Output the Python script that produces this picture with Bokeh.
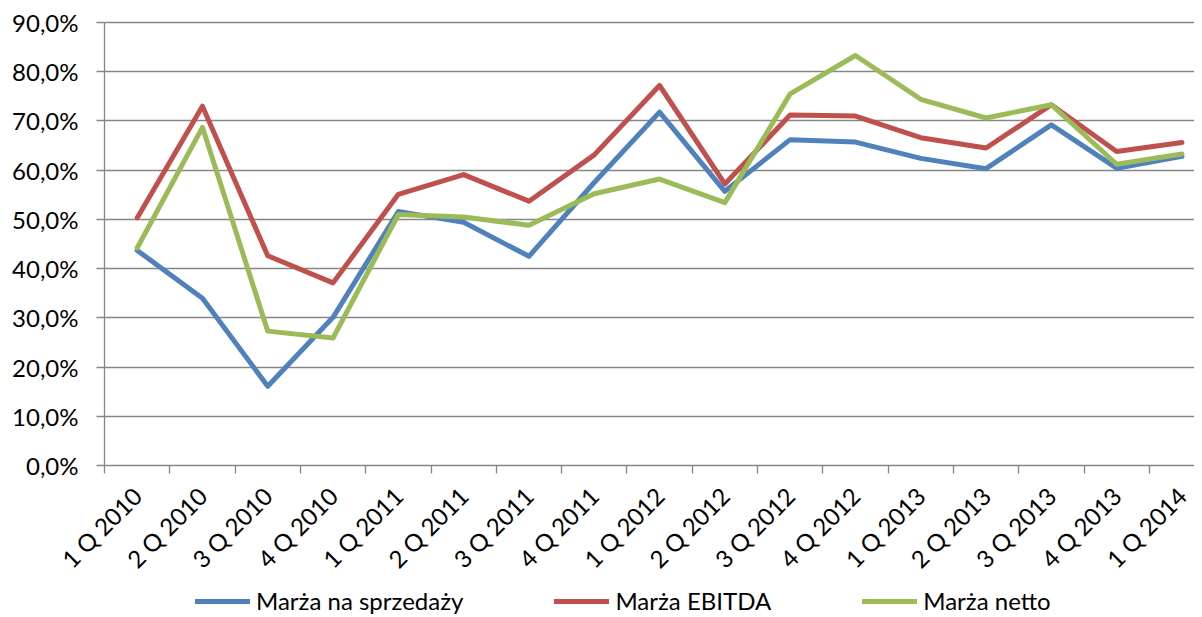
import math
from bokeh.plotting import figure
from bokeh.models import Range1d, FixedTicker, Legend, LegendItem
from bokeh.embed import file_html
from bokeh.resources import INLINE

quarters = ["1 Q 2010", "2 Q 2010", "3 Q 2010", "4 Q 2010",
            "1 Q 2011", "2 Q 2011", "3 Q 2011", "4 Q 2011",
            "1 Q 2012", "2 Q 2012", "3 Q 2012", "4 Q 2012",
            "1 Q 2013", "2 Q 2013", "3 Q 2013", "4 Q 2013",
            "1 Q 2014"]
marza_sprzedazy = [43.7, 34.0, 16.1, 30.1, 51.6, 49.4, 42.5, 57.5, 71.8,
                   55.7, 66.2, 65.7, 62.4, 60.3, 69.2, 60.4, 62.8]
marza_ebitda = [50.3, 73.0, 42.6, 37.1, 55.1, 59.1, 53.7, 63.1, 77.2,
                57.2, 71.2, 71.0, 66.6, 64.5, 73.3, 63.8, 65.6]
marza_netto = [44.2, 68.7, 27.3, 25.9, 51.0, 50.5, 48.8, 55.2, 58.2,
               53.4, 75.5, 83.3, 74.4, 70.6, 73.3, 61.2, 63.3]
series_names = ["Marża na sprzedaży", "Marża EBITDA", "Marża netto"]
series_colors = ["#4F81BD", "#C0504D", "#9BBB59"]
y_ticks = [0, 10, 20, 30, 40, 50, 60, 70, 80, 90]
y_tick_labels = ["0,0%", "10,0%", "20,0%", "30,0%", "40,0%",
                 "50,0%", "60,0%", "70,0%", "80,0%", "90,0%"]

FONT = "Lato"
FS = "24px"
GRID = "#868686"

# layout (pixels)
PLOT_H = 443          # height of the 0..90 % band
TOP_PX = 22           # room above 90 % for its label
FRAME_H = 615         # frame also hosts category labels and legend below 0 %
FRAME_W = 1194
LEFT_PX = 104         # room for the value labels, left of the first category
CAT_PX = 65.3         # width of one category
UNIT_PER_PX = 90.0 / PLOT_H
y_max = 90 + TOP_PX * UNIT_PER_PX
y_min = y_max - FRAME_H * UNIT_PER_PX
x_start = -0.5 - LEFT_PX / CAT_PX
x_end = x_start + FRAME_W / CAT_PX

xs = list(range(len(quarters)))
bounds = [i - 0.5 for i in range(len(quarters) + 1)]

p = figure(frame_width=FRAME_W, frame_height=FRAME_H, output_backend="svg", toolbar_location=None,
           x_range=Range1d(x_start, x_end), y_range=Range1d(y_min, y_max),
           min_border_left=0, min_border_top=0, min_border_right=0,
           min_border_bottom=0)
p.outline_line_color = None
p.background_fill_color = "white"
p.border_fill_color = "white"

p.xgrid.visible = False
p.ygrid.grid_line_color = GRID
p.ygrid.grid_line_width = 1.3
p.ygrid.ticker = FixedTicker(ticks=y_ticks[1:])
try:
    p.ygrid.cross_bounds = (-0.5, x_end)
except Exception:
    # hide grid lines left of the value axis
    p.quad(left=[x_start], right=[-0.5], bottom=[y_min], top=[y_max],
           fill_color="white", line_color=None)

# value axis drawn at the left edge of the first category
p.yaxis.fixed_location = -0.5
p.yaxis.ticker = FixedTicker(ticks=y_ticks)
p.yaxis.bounds = (0, 90)
p.yaxis.major_label_overrides = {t: l for t, l in zip(y_ticks, y_tick_labels)}
p.yaxis.axis_line_color = GRID
p.yaxis.axis_line_width = 1.3
p.yaxis.major_tick_line_color = GRID
p.yaxis.major_tick_line_width = 1.3
p.yaxis.major_tick_out = 8
p.yaxis.major_tick_in = 0
p.yaxis.minor_tick_line_color = None
p.yaxis.major_label_standoff = 18
p.yaxis.major_label_text_font = FONT
p.yaxis.major_label_text_font_size = FS
p.yaxis.major_label_text_color = "black"

# category axis drawn at 0 %
p.xaxis.fixed_location = 0
p.xaxis.bounds = (-0.5, x_end)
p.xaxis.ticker = FixedTicker(ticks=xs, minor_ticks=bounds)
p.xaxis.major_label_overrides = {i: q for i, q in enumerate(quarters)}
p.xaxis.major_label_orientation = math.pi / 4
p.xaxis.axis_line_color = GRID
p.xaxis.axis_line_width = 1.3
p.xaxis.major_tick_line_color = None
p.xaxis.major_tick_out = 0
p.xaxis.major_tick_in = 0
p.xaxis.minor_tick_line_color = GRID
p.xaxis.minor_tick_line_width = 1.3
p.xaxis.minor_tick_out = 8
p.xaxis.minor_tick_in = 0
p.xaxis.major_label_standoff = 18
p.xaxis.major_label_text_font = FONT
p.xaxis.major_label_text_font_size = FS
p.xaxis.major_label_text_color = "black"

items = []
for name, vals, col in zip(series_names, [marza_sprzedazy, marza_ebitda, marza_netto], series_colors):
    r = p.line(xs, vals, line_color=col, line_width=5, line_join="round", line_cap="round")
    items.append(LegendItem(label=name, renderers=[r]))

legend = Legend(items=items, orientation="horizontal", location=(195, 0),
                glyph_width=55, glyph_height=20, label_height=20, label_standoff=6, spacing=91,
                padding=0, margin=0, border_line_color=None, background_fill_alpha=0,
                label_text_font=FONT, label_text_font_size=FS, label_text_color="black")
p.add_layout(legend)

open("out.html", "w").write(file_html(p, INLINE))
